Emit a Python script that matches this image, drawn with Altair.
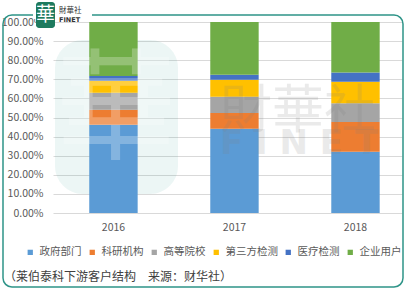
import altair as alt
import pandas as pd

years = ["2016", "2017", "2018"]
categories = ["政府部门", "科研机构", "高等院校", "第三方检测", "医疗检测", "企业用户"]
colors = ["#5B9BD5", "#ED7D31", "#A5A5A5", "#FFC000", "#4472C4", "#70AD47"]
v_gov = [0.462, 0.441, 0.321]
v_res = [0.079, 0.083, 0.155]
v_uni = [0.089, 0.085, 0.098]
v_third = [0.063, 0.089, 0.113]
v_med = [0.024, 0.026, 0.049]
v_ent = [0.283, 0.276, 0.264]
series = [v_gov, v_res, v_uni, v_third, v_med, v_ent]

rows = []
for ci, (cat, vals) in enumerate(zip(categories, series)):
    for yr, v in zip(years, vals):
        rows.append({"year": yr, "cat": cat, "value": v, "idx": ci})
df = pd.DataFrame(rows)

FONT = "Noto Sans CJK SC"
PW, PH = 349, 191
PL, PT = 53, 22

bars = alt.Chart(df).mark_bar().encode(
    x=alt.X("year:N", sort=years,
            scale=alt.Scale(paddingInner=0.6, paddingOuter=0.242, align=0.619),
            axis=alt.Axis(title=None, labelAngle=0, ticks=False, domain=False,
                          labelPadding=9, labelFontSize=10.5, labelColor="#595959",
                          labelFont=FONT)),
    y=alt.Y("value:Q", stack="zero", scale=alt.Scale(domain=[0, 1], nice=False),
            axis=alt.Axis(title=None, format=".2%", values=[i / 10 for i in range(11)],
                          ticks=False, domain=False, labelPadding=10,
                          labelFontSize=10.5, labelColor="#595959", labelFont=FONT,
                          gridColor="#D9D9D9", gridWidth=1)),
    color=alt.Color("cat:N", sort=categories,
                    scale=alt.Scale(domain=categories, range=colors),
                    legend=alt.Legend(title=None, orient="none", direction="horizontal",
                                      legendX=-28, legendY=225, symbolType="square",
                                      symbolSize=28, symbolStrokeWidth=0,
                                      labelFontSize=10.5, labelColor="#595959",
                                      labelFont=FONT, labelOffset=4,
                                      columnPadding=5)),
    order=alt.Order("idx:Q", sort="ascending"),
)

one = pd.DataFrame({"a": [0]})

# faint watermark: logo block at left
wm_box = alt.Chart(one).mark_rect(color="#2a9d8f", opacity=0.09, cornerRadius=28).encode(
    x=alt.value(2), x2=alt.value(125), y=alt.value(18), y2=alt.value(172))
wm_char = alt.Chart(one).mark_text(text="華", font=FONT, fontSize=120, color="#ffffff",
                                   opacity=0.25, align="center", baseline="middle").encode(
    x=alt.value(63), y=alt.value(92))
wm_text1 = alt.Chart(one).mark_text(text="財華社", font=FONT, fontSize=52, color="#808080",
                                    opacity=0.16, align="left", baseline="middle").encode(
    x=alt.value(167), y=alt.value(90))
wm_text2 = alt.Chart(one).mark_text(text="F I N E T", font="DejaVu Sans", fontSize=34,
                                    color="#808080", opacity=0.16, align="left",
                                    baseline="middle", fontWeight="bold").encode(
    x=alt.value(167), y=alt.value(122))

# frame
frame = alt.Chart(one).mark_rect(fill=None, stroke="#2E9488", strokeWidth=1.5,
                                 cornerRadius=9).encode(
    x=alt.value(3 - PL), x2=alt.value(403 - PL), y=alt.value(15 - PT), y2=alt.value(287 - PT))
gap = alt.Chart(one).mark_rect(color="#ffffff").encode(
    x=alt.value(33 - PL), x2=alt.value(92 - PL), y=alt.value(11 - PT), y2=alt.value(19 - PT))
logo_box = alt.Chart(one).mark_rect(color="#1E7A5E", cornerRadius=3).encode(
    x=alt.value(36 - PL), x2=alt.value(55 - PL), y=alt.value(2 - PT), y2=alt.value(28 - PT))
logo_char = alt.Chart(one).mark_text(text="華", font=FONT, fontSize=19, color="#ffffff",
                                     align="center", baseline="middle").encode(
    x=alt.value(45.5 - PL), y=alt.value(15 - PT))
logo_t1 = alt.Chart(one).mark_text(text="財華社", font=FONT, fontSize=7.5, color="#333333",
                                   align="left", baseline="middle").encode(
    x=alt.value(59 - PL), y=alt.value(11 - PT))
logo_t2 = alt.Chart(one).mark_text(text="FINET", font="DejaVu Sans", fontSize=6.5,
                                   fontWeight="bold", color="#333333",
                                   align="left", baseline="middle").encode(
    x=alt.value(59 - PL), y=alt.value(19.5 - PT))

footer = alt.Chart(one).mark_text(text="（莱伯泰科下游客户结构　来源：财华社）", font=FONT,
                                  fontSize=12, color="#404040", align="left",
                                  baseline="middle").encode(
    x=alt.value(4 - PL), y=alt.value(277 - PT))

chart = alt.layer(
    wm_box, bars, wm_char, wm_text1, wm_text2, frame, gap, logo_box, logo_char,
    logo_t1, logo_t2, footer
).properties(
    width=PW, height=PH,
    autosize=alt.AutoSizeParams(type="none"),
    padding={"left": PL, "top": PT, "right": 408 - PL - PW, "bottom": 291 - PT - PH},
    background="#ffffff",
).configure_view(stroke=None)

chart.save("out.html", embed_options={"renderer": "svg", "actions": False})
